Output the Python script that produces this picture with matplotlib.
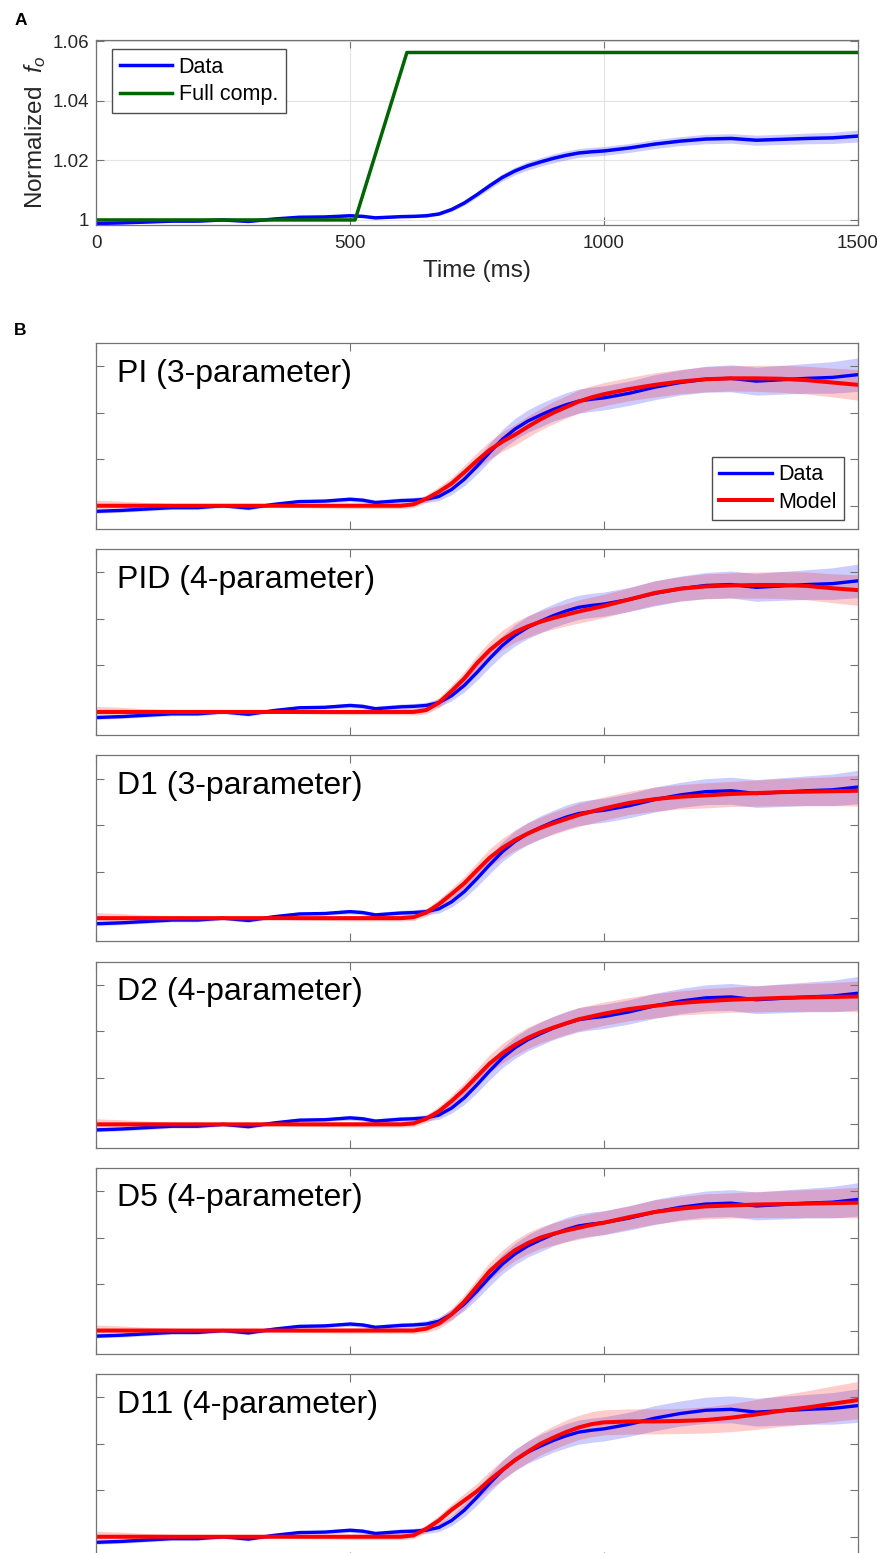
import numpy as np
import matplotlib
matplotlib.use('Agg')
import matplotlib.pyplot as plt

plt.rcParams['font.family'] = ['Liberation Sans', 'DejaVu Sans']
plt.rcParams['mathtext.fontset'] = 'custom'
plt.rcParams['mathtext.it'] = 'Liberation Sans:italic'
plt.rcParams['mathtext.rm'] = 'Liberation Sans'

# time points (ms)
t_ms = [0, 50, 100, 150, 200, 250, 300, 350, 400, 450, 500, 525, 550, 600, 625, 650, 675, 700, 725, 750,
        775, 800, 825, 850, 875, 900, 925, 950, 975, 1000, 1050, 1100, 1150, 1200, 1250, 1300, 1350, 1400, 1450, 1500]

# measured normalized fo (mean)
data_fo = [0.9988, 0.9990, 0.9993, 0.9996, 0.9996, 1.0000, 0.9995, 1.0003, 1.0009, 1.0010, 1.0014, 1.0012, 1.0007,
           1.0011, 1.0012, 1.0014, 1.0020, 1.0035, 1.0057, 1.0085, 1.0115, 1.0143, 1.0165, 1.0182, 1.0195, 1.0207,
           1.0217, 1.0225, 1.0229, 1.0232, 1.0242, 1.0255, 1.0265, 1.0272, 1.0274, 1.0268, 1.0271, 1.0274, 1.0276,
           1.0282]
# band half-widths of the data (panel A and panel B)
data_band_a = [0.0003, 0.0003, 0.0003, 0.0003, 0.0003, 0.0003, 0.0003, 0.0003, 0.0003, 0.0003, 0.0003, 0.0003,
               0.0003, 0.0003, 0.0004, 0.0004, 0.0005, 0.0006, 0.0008, 0.0009, 0.0011, 0.0012, 0.0013, 0.0014,
               0.0014, 0.0015, 0.0015, 0.0015, 0.0015, 0.0015, 0.0015, 0.0015, 0.0015, 0.0016, 0.0016, 0.0017,
               0.0017, 0.0018, 0.0019, 0.0020]
data_band_b = [0.0004, 0.0004, 0.0004, 0.0004, 0.0004, 0.0004, 0.0004, 0.0004, 0.0004, 0.0004, 0.0005, 0.0005,
               0.0005, 0.0006, 0.0006, 0.0007, 0.0009, 0.0011, 0.0014, 0.0017, 0.0019, 0.0021, 0.0023, 0.0024,
               0.0025, 0.0025, 0.0026, 0.0026, 0.0026, 0.0026, 0.0026, 0.0027, 0.0027, 0.0028, 0.0029, 0.0030,
               0.0031, 0.0032, 0.0034, 0.0036]

# full compensation trace
comp_t = [0, 510, 612, 1500]
comp_fo = [1.0, 1.0, 1.0563, 1.0563]

# model fits
model_pi = [1.0, 1.0, 1.0, 1.0, 1.0, 1.0, 1.0, 1.0, 1.0, 1.0, 1.0, 1.0, 1.0, 1.0, 1.0003, 1.0015, 1.0030, 1.0048,
            1.0072, 1.0097, 1.0120, 1.0138, 1.0153, 1.0170, 1.0186, 1.0200, 1.0212, 1.0224, 1.0233, 1.0240, 1.0251,
            1.0260, 1.0267, 1.0272, 1.0274, 1.0274, 1.0273, 1.0270, 1.0265, 1.0260]
model_pid = [1.0, 1.0, 1.0, 1.0, 1.0, 1.0, 1.0, 1.0, 1.0, 1.0, 1.0, 1.0, 1.0, 1.0, 1.0, 1.0004, 1.0020, 1.0045,
             1.0072, 1.0105, 1.0133, 1.0155, 1.0172, 1.0184, 1.0194, 1.0202, 1.0209, 1.0216, 1.0222, 1.0228, 1.0242,
             1.0256, 1.0265, 1.0270, 1.0272, 1.0273, 1.0273, 1.0271, 1.0266, 1.0262]
model_d1 = [1.0, 1.0, 1.0, 1.0, 1.0, 1.0, 1.0, 1.0, 1.0, 1.0, 1.0, 1.0, 1.0, 1.0, 1.0002, 1.0012, 1.0030, 1.0052,
            1.0075, 1.0103, 1.0130, 1.0151, 1.0168, 1.0182, 1.0194, 1.0204, 1.0213, 1.0222, 1.0229, 1.0236, 1.0248,
            1.0256, 1.0261, 1.0264, 1.0267, 1.0269, 1.0271, 1.0272, 1.0273, 1.0274]
model_d2 = [1.0, 1.0, 1.0, 1.0, 1.0, 1.0, 1.0, 1.0, 1.0, 1.0, 1.0, 1.0, 1.0, 1.0, 1.0002, 1.0012, 1.0028, 1.0050,
            1.0075, 1.0103, 1.0131, 1.0153, 1.0171, 1.0186, 1.0198, 1.0208, 1.0217, 1.0226, 1.0232, 1.0238, 1.0248,
            1.0255, 1.0261, 1.0265, 1.0268, 1.0270, 1.0272, 1.0273, 1.0274, 1.0275]
model_d5 = [1.0, 1.0, 1.0, 1.0, 1.0, 1.0, 1.0, 1.0, 1.0, 1.0, 1.0, 1.0, 1.0, 1.0, 1.0, 1.0004, 1.0015, 1.0035,
            1.0062, 1.0095, 1.0128, 1.0152, 1.0173, 1.0188, 1.0200, 1.0208, 1.0215, 1.0221, 1.0227, 1.0232, 1.0244,
            1.0255, 1.0262, 1.0267, 1.0269, 1.0271, 1.0272, 1.0273, 1.0274, 1.0275]
model_d11 = [1.0, 1.0, 1.0, 1.0, 1.0, 1.0, 1.0, 1.0, 1.0, 1.0, 1.0, 1.0, 1.0, 1.0, 1.0003, 1.0017, 1.0035, 1.0058,
             1.0078, 1.0098, 1.0122, 1.0144, 1.0165, 1.0183, 1.0200, 1.0213, 1.0225, 1.0235, 1.0242, 1.0246, 1.0248,
             1.0248, 1.0249, 1.0251, 1.0256, 1.0263, 1.0271, 1.0278, 1.0286, 1.0294]
# model band half-widths
model_band = [0.0012, 0.0010, 0.0007, 0.0005, 0.0003, 0.0001, 0.0001, 0.0002, 0.0004, 0.0005, 0.0006, 0.0006,
              0.0006, 0.0006, 0.0007, 0.0008, 0.0011, 0.0013, 0.0015, 0.0017, 0.0019, 0.0021, 0.0022, 0.0023,
              0.0023, 0.0024, 0.0024, 0.0025, 0.0025, 0.0025, 0.0025, 0.0026, 0.0026, 0.0027, 0.0027, 0.0028,
              0.0029, 0.0030, 0.0031, 0.0033]
model_band_d11 = [0.0012, 0.0010, 0.0007, 0.0005, 0.0003, 0.0001, 0.0001, 0.0002, 0.0004, 0.0005, 0.0006, 0.0006,
                  0.0006, 0.0006, 0.0007, 0.0008, 0.0011, 0.0013, 0.0015, 0.0017, 0.0019, 0.0021, 0.0022, 0.0023,
                  0.0024, 0.0025, 0.0026, 0.0026, 0.0027, 0.0027, 0.0027, 0.0027, 0.0027, 0.0028, 0.0030, 0.0032,
                  0.0034, 0.0036, 0.0038, 0.0040]

model_names = ['PI (3-parameter)', 'PID (4-parameter)', 'D1 (3-parameter)', 'D2 (4-parameter)',
               'D5 (4-parameter)', 'D11 (4-parameter)']
model_fits = [model_pi, model_pid, model_d1, model_d2, model_d5, model_d11]
model_bands = [model_band, model_band, model_band, model_band, model_band, model_band_d11]

W, H = 877, 1553
spine_c = '0.45'
fig = plt.figure(figsize=(W / 100, H / 100), dpi=100)


def px_axes(left, top, right, bottom):
    return fig.add_axes([left / W, 1 - bottom / H, (right - left) / W, (bottom - top) / H])


def style_axes(ax):
    for s in ax.spines.values():
        s.set_color(spine_c)
        s.set_linewidth(0.9)
    ax.tick_params(direction='in', length=5.5, width=0.8, color=spine_c, top=True, right=True,
                   labelsize=13.5, labelcolor='#262626')
    ax.tick_params(axis='x', pad=7)
    ax.tick_params(axis='y', pad=5)
    ax.set_xlim(0, 1500)
    ax.set_xticks([0, 500, 1000, 1500])


def add_legend(ax, loc, anchor):
    ax.legend(loc=loc, bbox_to_anchor=anchor, borderaxespad=0, fontsize=15.5,
              fancybox=False, edgecolor='0.3', framealpha=1, handlelength=2.45, handletextpad=0.3,
              borderpad=0.35, labelspacing=0.3)


t = np.array(t_ms)
d = np.array(data_fo)

# ---- panel A
axA = px_axes(96, 40, 858, 225)
style_axes(axA)
axA.set_ylim(0.9983, 1.0605)
axA.set_yticks([1.0, 1.02, 1.04, 1.06])
axA.set_yticklabels(['1', '1.02', '1.04', '1.06'])
axA.grid(True, color='0.89', lw=0.8)
axA.set_axisbelow(True)
axA.fill_between(t, d - np.array(data_band_a), d + np.array(data_band_a), color='blue', alpha=0.2, lw=0)
axA.plot(t, d, color='blue', lw=2.5, label='Data')
axA.plot(comp_t, comp_fo, color='#006400', lw=2.5, label='Full comp.')
axA.set_xlabel('Time (ms)', fontsize=17.5, color='#262626', labelpad=6)
axA.set_ylabel('Normalized  $f_o$', fontsize=17.5, color='#262626', labelpad=3)
add_legend(axA, 'upper left', (0.021, 0.951))

fig.text(15 / W, 1 - 13 / H, 'A', fontsize=12.5, fontweight='bold', va='top', ha='left')
fig.text(14 / W, 1 - 323 / H, 'B', fontsize=12.5, fontweight='bold', va='top', ha='left')

# ---- panel B
for i, (name, fit, band) in enumerate(zip(model_names, model_fits, model_bands)):
    top = 343 + 206.2 * i
    ax = px_axes(96, top, 858, top + 186)
    style_axes(ax)
    ax.set_ylim(0.995, 1.035)
    ax.set_yticks([1.0, 1.01, 1.02, 1.03])
    ax.set_xticklabels([])
    ax.set_yticklabels([])
    db = np.array(data_band_b)
    m = np.array(fit)
    mb = np.array(band)
    ax.fill_between(t, d - db, d + db, color='blue', alpha=0.2, lw=0)
    ax.plot(t, d, color='blue', lw=2.4, label='Data')
    ax.fill_between(t, m - mb, m + mb, color='red', alpha=0.2, lw=0)
    ax.plot(t, m, color='red', lw=2.9, label='Model')
    ax.text(0.0276, 0.792, name, transform=ax.transAxes, fontsize=23, va='baseline', ha='left')
    if i == 0:
        add_legend(ax, 'lower right', (0.982, 0.048))

fig.savefig('out.png', dpi=100)
